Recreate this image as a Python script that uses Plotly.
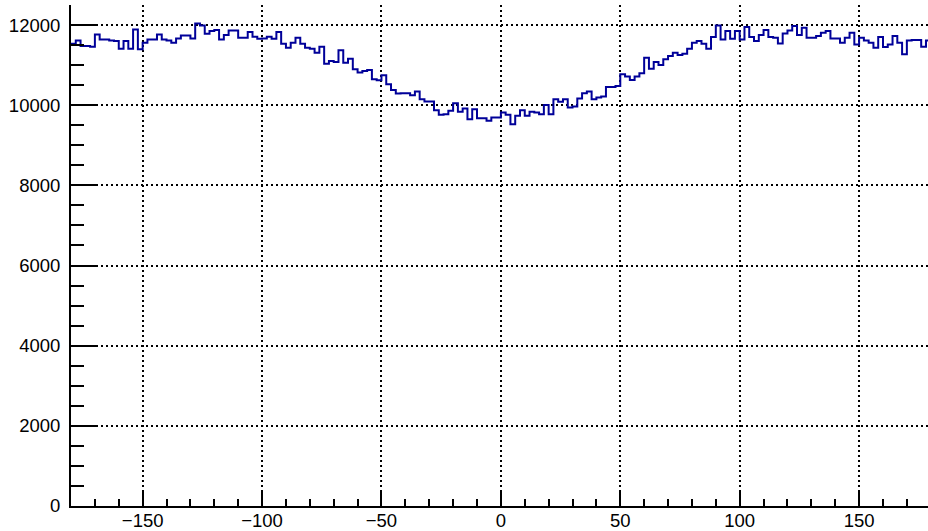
import numpy as np
import plotly.graph_objects as go

# Histogram: 180 bins of 2 degrees spanning -180..180
x_min, x_max, n_bins = -180.0, 180.0, 180

counts = [
    11535, 11617, 11475, 11475, 11460, 11766, 11642, 11642, 11617, 11600,
    11410, 11600, 11410, 11890, 11393, 11559, 11642, 11642, 11766, 11642,
    11617, 11559, 11667, 11741, 11741, 11667, 12040, 11990, 11783, 11849,
    11874, 11642, 11750, 11866, 11866, 11683, 11683, 11824, 11708, 11658,
    11667, 11708, 11658, 11824, 11534, 11435, 11559, 11683, 11534, 11435,
    11410, 11310, 11459, 11036, 11103, 11078, 11368, 11061, 11161, 10896,
    10813, 10854, 10879, 10647, 10622, 10746, 10522, 10381, 10290, 10299,
    10299, 10249, 10340, 10149, 10091, 10091, 9876, 9759, 9776, 9859,
    10050, 9834, 9917, 9652, 9900, 9677, 9677, 9610, 9693, 9693,
    9818, 9759, 9527, 9735, 9876, 9735, 9834, 9818, 9776, 10008,
    9776, 10149, 10083, 10149, 9942, 9967, 10166, 10299, 10340, 10149,
    10191, 10216, 10456, 10456, 10481, 10771, 10713, 10630, 10713, 10796,
    11186, 10912, 11078, 11003, 11144, 11227, 11310, 11252, 11285, 11410,
    11559, 11600, 11534, 11410, 11700, 11990, 11642, 11849, 11658, 11849,
    11642, 11949, 11700, 11600, 11750, 11874, 11700, 11683, 11542, 11791,
    11866, 11973, 11750, 11932, 11683, 11683, 11725, 11808, 11849, 11667,
    11667, 11559, 11683, 11808, 11517, 11683, 11617, 11559, 11435, 11700,
    11451, 11517, 11725, 11559, 11269, 11617, 11625, 11625, 11459, 11617,
]

x_tick_vals = [-150, -100, -50, 0, 50, 100, 150]
x_tick_text = ["\u2212150", "\u2212100", "\u221250", "0", "50", "100", "150"]
y_tick_vals = [0, 2000, 4000, 6000, 8000, 10000, 12000]
y_tick_text = ["0", "2000", "4000", "6000", "8000", "10000", "12000"]

edges = np.linspace(x_min, x_max, n_bins + 1)
step_y = list(counts) + [counts[-1]]

fig = go.Figure()
fig.add_trace(go.Scatter(
    x=edges, y=step_y, mode="lines",
    line=dict(shape="hv", color="#000099", width=2),
    hoverinfo="skip", showlegend=False,
))

font = dict(family="Liberation Sans, Arial, Helvetica, sans-serif", size=18.5, color="black")

fig.update_layout(
    width=928, height=531,
    margin=dict(l=71, r=0, t=5, b=25, pad=0, autoexpand=False),
    paper_bgcolor="white", plot_bgcolor="white",
    font=font,
    showlegend=False,
)

fig.update_xaxes(
    range=[x_min, 178.85],
    automargin=False,
    tickmode="array", tickvals=x_tick_vals, ticktext=x_tick_text,
    ticks="inside", ticklen=14, tickwidth=1.5, tickcolor="black",
    showline=True, linecolor="black", linewidth=2,
    showgrid=True, gridcolor="black", gridwidth=1.5, griddash="2px,3px",
    zeroline=False,
    minor=dict(dtick=10, tick0=0, ticks="inside", ticklen=7, tickwidth=1.5,
               tickcolor="black", showgrid=False),
    tickfont=font,
    ticklabelstandoff=-3,
)

fig.update_yaxes(
    range=[0, 12500],
    automargin=False,
    tickmode="array", tickvals=y_tick_vals, ticktext=y_tick_text,
    ticks="inside", ticklen=25, tickwidth=1.5, tickcolor="black",
    showline=True, linecolor="black", linewidth=2,
    showgrid=True, gridcolor="black", gridwidth=1.5, griddash="2px,3px",
    zeroline=False,
    minor=dict(dtick=500, tick0=0, ticks="inside", ticklen=13, tickwidth=1.5,
               tickcolor="black", showgrid=False),
    tickfont=font,
    ticklabelstandoff=5,
)

fig.write_html("out.html")
